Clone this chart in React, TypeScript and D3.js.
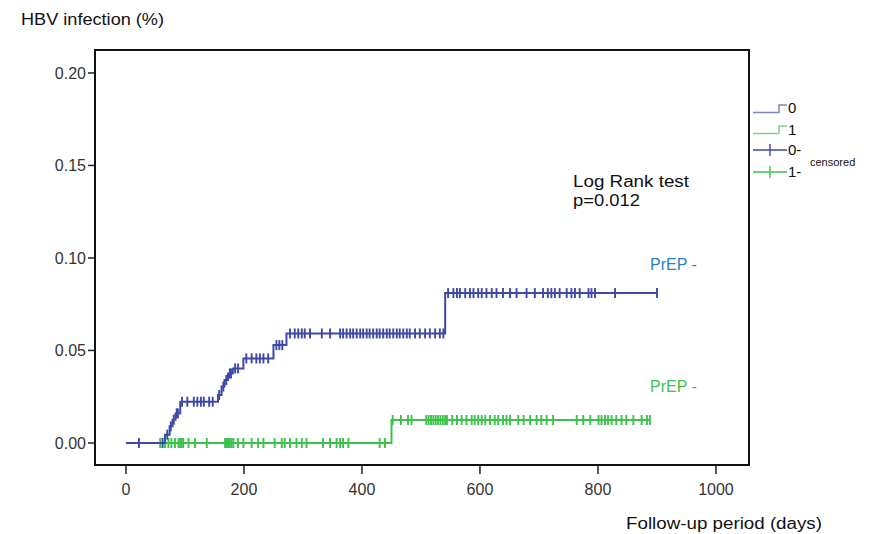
import React from "react";
import * as d3 from "d3";

// Kaplan-Meier type cumulative incidence
// group 0 (PrEP -, blue) event steps: [day, cumulative value]
const blueSteps: [number, number][] = [
  [0, 0],
  [66, 0.0045],
  [74, 0.009],
  [79, 0.0126],
  [84, 0.016],
  [92, 0.0223],
  [156, 0.0259],
  [162, 0.0305],
  [167, 0.034],
  [173, 0.0376],
  [181, 0.0403],
  [199, 0.0457],
  [250, 0.0529],
  [272, 0.0592],
  [541, 0.081],
];
const blueEnd = 900;
const blueCensored = [
  22, 62, 70, 76, 81, 86, 88, 95, 104, 115, 121, 127, 132, 141, 147, 158, 165,
  170, 176, 178, 185, 190, 204, 213, 221, 227, 233, 241, 255, 260, 265, 278,
  286, 292, 298, 303, 312, 332, 346, 363, 368, 374, 380, 385, 391, 397, 402,
  408, 413, 419, 425, 430, 436, 442, 447, 453, 459, 464, 470, 476, 481, 490,
  498, 507, 515, 524, 532, 538, 546, 555, 561, 566, 575, 583, 589, 597, 603,
  611, 620, 628, 639, 651, 662, 679, 693, 707, 715, 721, 727, 735, 747, 755,
  761, 769, 784, 789, 795, 829, 900,
];

// group 1 (green)
const greenSteps: [number, number][] = [
  [0, 0],
  [450, 0.0124],
];
const greenEnd = 888;
const greenCensored = [
  58, 66, 72, 77, 83, 89, 92, 94, 97, 106, 117, 137, 168, 171, 173, 176, 179,
  182, 190, 199, 213, 224, 233, 252, 264, 269, 278, 289, 298, 306, 334, 346,
  357, 363, 368, 377, 430, 439, 452, 466, 478, 484, 509, 513, 517, 521, 525,
  529, 533, 537, 541, 544, 553, 561, 569, 577, 586, 591, 597, 603, 609, 617,
  625, 631, 639, 645, 651, 665, 674, 685, 696, 704, 713, 724, 764, 775, 787,
  801, 806, 812, 817, 823, 831, 840, 848, 860, 874, 883, 888,
];

const xTicks = [0, 200, 400, 600, 800, 1000];
const yTicks = [0, 0.05, 0.1, 0.15, 0.2];

const blue = "#3e48a6";
const green = "#3cc24c";
const font = "'Liberation Sans', Arial, sans-serif";

function levelAt(steps: [number, number][], day: number) {
  let v = 0;
  steps.forEach((s) => {
    if (s[0] <= day) v = s[1];
  });
  return v;
}

export default function App() {
  const left = 95,
    right = 749,
    top = 50,
    bottom = 465;

  const x = d3.scaleLinear().domain([-52.5, 1056]).range([left, right]);
  const y = d3.scaleLinear().domain([-0.0119, 0.2124]).range([bottom, top]);

  const line = d3
    .line<[number, number]>()
    .x((d) => x(d[0]))
    .y((d) => y(d[1]))
    .curve(d3.curveStepAfter);

  const bluePath = line([
    ...blueSteps,
    [blueEnd, blueSteps[blueSteps.length - 1][1]],
  ]);
  const greenPath = line([
    ...greenSteps,
    [greenEnd, greenSteps[greenSteps.length - 1][1]],
  ]);

  const censorMarks = (
    days: number[],
    steps: [number, number][],
    color: string,
    key: string
  ) =>
    days.map((d, i) => {
      const cy = y(levelAt(steps, d));
      return (
        <line
          key={key + i}
          x1={x(d)}
          x2={x(d)}
          y1={cy - 5}
          y2={cy + 5}
          stroke={color}
          strokeWidth={1.9}
        />
      );
    });

  return (
    <svg
      width={884}
      height={534}
      style={{ position: "absolute", left: 0, top: 0, background: "#fff" }}
      fontFamily={font}
    >
      <text x={21} y={25} fontSize={16} fill="#111" textLength={143} lengthAdjust="spacingAndGlyphs">
        HBV infection (%)
      </text>

      {/* y axis ticks */}
      {yTicks.map((t) => (
        <g key={"y" + t}>
          <line x1={left - 7} x2={left} y1={y(t)} y2={y(t)} stroke="#222" strokeWidth={1.5} />
          <text
            x={left - 9}
            y={y(t)}
            dy="0.36em"
            textAnchor="end"
            fontSize={16}
            fill="#333"
          >
            {d3.format(".2f")(t)}
          </text>
        </g>
      ))}

      {/* x axis ticks */}
      {xTicks.map((t) => (
        <g key={"x" + t}>
          <line x1={x(t)} x2={x(t)} y1={bottom} y2={bottom + 9} stroke="#222" strokeWidth={1.5} />
          <text x={x(t)} y={bottom + 30} textAnchor="middle" fontSize={16} fill="#333">
            {t}
          </text>
        </g>
      ))}

      <text x={626} y={529} fontSize={16} fill="#111" textLength={196} lengthAdjust="spacingAndGlyphs">
        Follow-up period (days)
      </text>

      {/* curves */}
      <path d={greenPath || ""} fill="none" stroke={green} strokeWidth={2} />
      {censorMarks(greenCensored, greenSteps, green, "g")}
      <path d={bluePath || ""} fill="none" stroke={blue} strokeWidth={2} />
      {censorMarks(blueCensored, blueSteps, blue, "b")}

      {/* plot frame */}
      <rect
        x={left}
        y={top}
        width={right - left}
        height={bottom - top}
        fill="none"
        stroke="#111"
        strokeWidth={2}
      />

      {/* annotations */}
      <text x={573} y={187} fontSize={16} fill="#111" textLength={116} lengthAdjust="spacingAndGlyphs">
        Log Rank test
      </text>
      <text x={573} y={206} fontSize={16} fill="#111" textLength={67} lengthAdjust="spacingAndGlyphs">
        p=0.012
      </text>
      <text x={650} y={270} fontSize={16} fill="#2a7fc4">
        PrEP -
      </text>
      <text x={650} y={392} fontSize={16} fill={green}>
        PrEP -
      </text>

      {/* legend */}
      <g fontSize={15} fill="#111">
        <path d="M753,112.5 H779 V105 H787" fill="none" stroke="#7d88b8" strokeWidth={1.5} />
        <text x={788} y={113}>0</text>
        <path d="M753,133.5 H779 V126 H787" fill="none" stroke="#7fd48a" strokeWidth={1.5} />
        <text x={788} y={135}>1</text>
        <path d="M753,150 H787 M770,144 V156" fill="none" stroke={blue} strokeWidth={1.4} />
        <text x={788} y={155}>0-</text>
        <path d="M753,172 H787 M770,166 V178" fill="none" stroke={green} strokeWidth={1.4} />
        <text x={788} y={177}>1-</text>
        <text x={810} y={166} fontSize={11}>
          censored
        </text>
      </g>
    </svg>
  );
}
